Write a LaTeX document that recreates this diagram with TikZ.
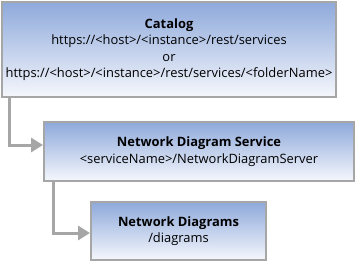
\documentclass[tikz,border=0pt]{standalone}
\usepackage{fontspec}
\setmainfont{Open Sans}
\usetikzlibrary{arrows.meta}
\definecolor{boxtop}{HTML}{8EA9DB}
\definecolor{boxbot}{HTML}{F5F7FC}
\definecolor{edge}{HTML}{A6A6A6}
\begin{document}
\begin{tikzpicture}[x=1pt, y=-1pt,
    box/.style={draw=edge, line width=2pt, top color=boxtop, bottom color=boxbot,
        align=center, inner sep=0pt, font=\fontsize{12.9}{16.5}\selectfont},
    link/.style={edge, line width=3pt, -{Triangle[length=12pt,width=14pt]}}]
    \useasboundingbox (0,0) rectangle (361,268);
    \node[box, minimum width=334pt, minimum height=95pt] (catalog) at (169,49.5)
        {\textbf{Catalog}\\https://<host>/<instance>/rest/services\\or\\https://<host>/<instance>/rest/services/<folderName>};
    \node[box, minimum width=310pt, minimum height=59pt] (service) at (199,151.5)
        {\textbf{Network Diagram Service}\\<serviceName>/NetworkDiagramServer};
    \node[box, minimum width=175pt, minimum height=58pt] (diagrams) at (178.5,231)
        {\textbf{Network Diagrams}\\/diagrams};
    \draw[link] ([xshift=8pt]catalog.south west) |- ([yshift=6.5pt]service.west);
    \draw[link] ([xshift=10pt]service.south west) |- ([yshift=-2pt]diagrams.west);
\end{tikzpicture}
\end{document}
